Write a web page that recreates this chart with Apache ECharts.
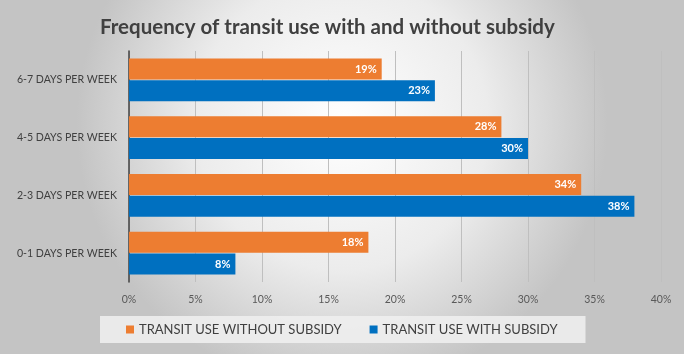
<!DOCTYPE html>
<html>
<head>
<meta charset="utf-8">
<script src="https://cdn.jsdelivr.net/npm/echarts@6/dist/echarts.min.js"></script>
<style>
  html, body { margin: 0; padding: 0; }
  #chart { width: 684px; height: 354px; }
</style>
</head>
<body>
<div id="chart"></div>
<script>
  var categories = ['0-1 DAYS PER WEEK', '2-3 DAYS PER WEEK', '4-5 DAYS PER WEEK', '6-7 DAYS PER WEEK'];
  var withoutSubsidy = [18, 34, 28, 19];
  var withSubsidy = [8, 38, 30, 23];
  var xTicks = [0, 5, 10, 15, 20, 25, 30, 35, 40];

  var font = 'Lato';
  var chart = echarts.init(document.getElementById('chart'));
  chart.setOption({
    backgroundColor: {
      type: 'radial', x: 0.5, y: 0.35, r: 0.75,
      colorStops: [
        { offset: 0, color: '#ffffff' },
        { offset: 0.55, color: '#ececec' },
        { offset: 1, color: '#c4c4c4' }
      ]
    },
    textStyle: { fontFamily: font },
    title: {
      text: 'Frequency of transit use with and without subsidy',
      left: 95,
      top: 12,
      textStyle: { fontSize: 20.5, fontWeight: 'bold', color: '#404040', fontFamily: font }
    },
    legend: {
      data: ['TRANSIT USE WITHOUT SUBSIDY', 'TRANSIT USE WITH SUBSIDY'],
      left: 100,
      top: 316,
      padding: [7, 28, 7, 26],
      itemGap: 28,
      itemWidth: 8,
      itemHeight: 8,
      icon: 'rect',
      backgroundColor: 'rgba(238,238,238,0.9)',
      textStyle: { fontSize: 13, color: '#404040', fontFamily: font }
    },
    grid: { left: 129, right: 23, top: 51, bottom: 72 },
    xAxis: {
      type: 'value',
      min: 0,
      max: 40,
      interval: 5,
      axisLine: { show: false },
      axisTick: { show: false },
      axisLabel: {
        color: '#595959', fontSize: 10.5, margin: 12,
        formatter: function (v) { return xTicks.indexOf(v) >= 0 ? v + '%' : ''; }
      },
      splitLine: { lineStyle: { color: '#bfbfbf', width: 1 } }
    },
    yAxis: {
      type: 'category',
      data: categories,
      axisLine: { show: true, lineStyle: { color: '#404040', width: 1.5 } },
      axisTick: { show: false },
      axisLabel: { color: '#404040', fontSize: 10.6, margin: 12 }
    },
    series: [
      {
        name: 'TRANSIT USE WITHOUT SUBSIDY',
        type: 'bar',
        data: withoutSubsidy,
        barWidth: 21,
        barGap: '4%',
        itemStyle: { color: '#ed7d31' },
        label: {
          show: true, position: 'insideRight', color: '#ffffff',
          fontWeight: 'bold', fontSize: 11, formatter: '{c}%'
        }
      },
      {
        name: 'TRANSIT USE WITH SUBSIDY',
        type: 'bar',
        data: withSubsidy,
        barWidth: 21,
        barGap: '4%',
        itemStyle: { color: '#0070c0' },
        label: {
          show: true, position: 'insideRight', color: '#ffffff',
          fontWeight: 'bold', fontSize: 11, formatter: '{c}%'
        }
      }
    ]
  });
</script>
</body>
</html>
